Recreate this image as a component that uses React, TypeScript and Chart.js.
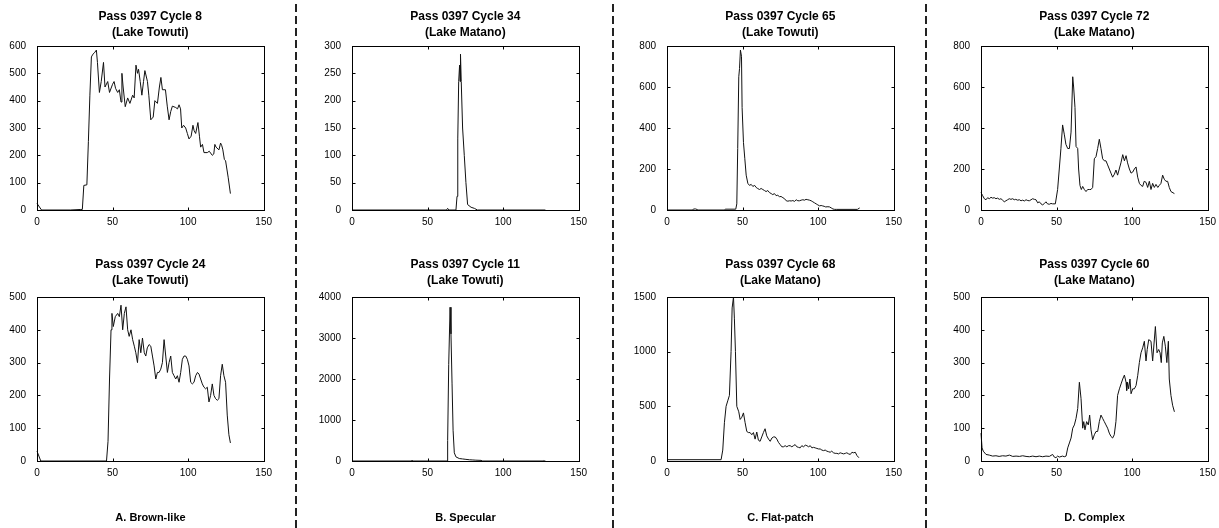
import React, { useEffect, useRef } from "react";
import { Chart, registerables } from "chart.js";

Chart.register(...registerables);

type Pt = [number, number];

// Waveform bin (x) and power (y) readings for each panel
const cycle8: Pt[] = [[0,24],[3,0],[22,0],[29,2],[30,2],[31,90],[33,92],[34,250],[35,420],[36,560],[37,570],[38,575],[39.3,585],[40,540],[41.3,430],[42.5,470],[44,540],[45,450],[46.8,470],[48,430],[50,460],[51,470],[52,445],[53.4,430],[54.5,440],[55.6,395],[56.2,500],[57,450],[58.4,378],[60,410],[61.5,390],[63.3,420],[64.3,410],[65.5,530],[66.5,500],[67.2,515],[68.3,470],[69.4,420],[70.5,470],[71.4,510],[73.1,470],[74,420],[75.3,330],[76.9,340],[78,400],[79.7,390],[81,450],[82,485],[83,440],[85,440],[86.2,380],[87.4,330],[88.5,360],[89.6,380],[91.8,375],[93,370],[94,385],[95,370],[95.8,300],[97,310],[98.4,300],[99.5,280],[100.6,260],[102,270],[103.2,310],[104,290],[105,280],[106.5,320],[107.5,270],[108.3,230],[109.5,240],[110.5,210],[112.7,210],[114,215],[116,200],[117,205],[117.7,240],[118.5,230],[120.4,220],[121.5,245],[122.3,235],[123,220],[124,185],[124.8,180],[126.5,120],[128,60]];

const cycle24: Pt[] = [[0,30],[2.5,0],[46,0],[47,60],[48,250],[49,400],[49.6,450],[50.5,410],[51.8,440],[53.4,450],[54.5,440],[55.6,475],[56.7,400],[57.8,450],[58.9,470],[60,400],[61,380],[62.2,400],[63.3,370],[64.4,350],[65.4,330],[66.5,300],[67.6,370],[68.7,330],[69.8,375],[71,330],[72,320],[73,345],[74.2,355],[75.3,350],[76.4,320],[77.5,290],[78.6,250],[79.7,270],[80.8,270],[81.9,280],[83,300],[84.1,370],[85.2,320],[86.3,270],[87.4,300],[88.5,320],[89.6,270],[90.7,260],[91.8,250],[92.9,260],[94,240],[95.1,270],[96.2,310],[97.3,320],[98.4,320],[99.5,310],[100.6,290],[101.7,240],[102.8,235],[103.9,240],[105,260],[106.2,270],[107.2,265],[108.3,250],[109.4,235],[110.5,225],[111.6,220],[112.7,225],[113.8,180],[114.9,200],[116,235],[117.1,200],[118.2,190],[119.3,185],[120.4,190],[121.5,260],[122.6,295],[123.7,260],[124.8,240],[125.9,140],[127,80],[128,55]];

const cycle34: Pt[] = [[0,0],[62.5,0],[63.3,3],[64,0],[68.8,0],[69.5,25],[70,130],[70.6,235],[71.2,265],[71.5,235],[71.8,285],[72.3,235],[73.2,150],[74.3,100],[75.4,50],[76.5,10],[78.8,5],[81,3],[83,0],[128,0]];

const cycle11: Pt[] = [[0,0],[39.2,0],[39.7,20],[40.2,0],[62.9,0],[63.3,500],[64,2350],[64.9,3750],[65.5,3100],[66.2,1900],[66.9,750],[67.7,200],[68.8,100],[71,60],[73.2,50],[75.4,40],[77.7,30],[80,25],[82,20],[85.4,15],[86.5,0],[126.5,0],[127,10],[127.5,0],[128,0]];

const cycle65: Pt[] = [[0,0],[17,0],[17.5,5],[19,5],[20,2],[21,0],[38,0],[38.5,4],[45.5,4],[46.2,30],[46.8,300],[47.5,650],[48,690],[48.6,780],[49.3,750],[49.7,500],[50.6,330],[51.5,250],[52.4,170],[53.5,130],[54.6,120],[55.7,125],[56.8,115],[58,120],[59,110],[60,105],[61.2,100],[62.3,105],[63.4,100],[64.5,95],[65.6,90],[66.7,95],[67.8,85],[69,80],[70,75],[71.1,80],[72.2,70],[73.3,72],[74.4,65],[75.5,66],[76.7,60],[77.8,55],[78.9,45],[80,43],[81,45],[82.2,44],[83.3,46],[84.4,42],[85.5,50],[86.6,45],[87.7,45],[88.8,48],[89.9,50],[91,48],[92,52],[93.2,50],[94.3,48],[95.4,45],[96.5,40],[97.6,35],[98.7,30],[99.8,25],[101,20],[102,22],[103,20],[104,18],[105,15],[106.5,16],[107.6,15],[108.7,10],[109.8,5],[111,3],[112,3],[126,3],[127.5,10]];

const cycle68: Pt[] = [[0,12],[35.8,12],[36.9,100],[38,350],[39.1,500],[40.2,550],[41.3,600],[42.4,1000],[43.1,1400],[44,1500],[44.6,1300],[45.3,1000],[46.2,500],[47.5,450],[48.4,380],[49.5,400],[50.6,440],[51.7,350],[52.8,270],[53.9,260],[55,260],[56.1,240],[57.2,260],[58.3,200],[59.4,265],[60.5,190],[61.6,180],[62.7,220],[63.8,260],[64.9,295],[66,230],[67.2,200],[68.3,180],[69.4,210],[70.5,220],[71.6,220],[72.7,200],[73.8,170],[74.9,150],[76,130],[77.1,130],[78.2,140],[79.3,130],[80.4,140],[81.5,140],[82.6,130],[83.7,140],[84.8,150],[85.9,130],[87,125],[88.1,120],[89.2,140],[90.4,130],[91.5,145],[92.6,140],[93.7,130],[94.8,140],[95.9,120],[97,125],[98.1,120],[99.2,115],[100.3,110],[101.4,110],[102.5,100],[103.6,95],[104.7,100],[105.8,90],[106.9,85],[108,80],[109,90],[110.2,75],[111.3,70],[112.4,70],[113.5,65],[114.6,75],[115.7,70],[116.9,65],[118,70],[119,75],[120.2,65],[121.3,60],[122.4,80],[123.5,75],[124.6,80],[125.7,50],[127,30]];

const cycle72: Pt[] = [[0,85],[1.1,70],[2.2,55],[3.3,50],[4.4,60],[5.5,55],[6.6,62],[7.7,58],[8.8,60],[9.9,55],[11,58],[12.1,52],[13.2,55],[14.3,48],[15.4,40],[16.5,45],[17.6,50],[18.7,55],[19.8,52],[21,55],[22,50],[23,52],[24.2,48],[25.4,50],[26.5,45],[27.6,48],[28.7,44],[29.8,50],[31,46],[32,45],[33.1,50],[34.2,55],[35.3,52],[36.4,50],[37.5,35],[38.6,40],[39.7,30],[40.8,25],[42,32],[43,40],[44,30],[45.2,28],[46.3,32],[47.4,30],[49.2,30],[50.7,100],[51.8,200],[52.9,300],[54,415],[55.1,370],[56.2,320],[57.4,300],[58.5,300],[59.6,380],[60.7,650],[61.3,600],[62.2,500],[62.9,310],[64,300],[64.6,200],[65.5,120],[66.4,100],[67.3,115],[68.4,100],[69.5,90],[70.6,100],[71.7,100],[72.8,100],[73.9,110],[75,250],[76.1,260],[77.2,300],[78.3,345],[79.4,300],[80.5,250],[81.6,240],[82.7,240],[83.8,220],[84.9,200],[86,180],[87.1,160],[88.3,175],[89.3,195],[90.4,170],[91.5,200],[92.6,230],[93.8,270],[94.9,240],[96,265],[97,230],[98.2,200],[99.3,180],[100.4,185],[101.5,200],[102.6,210],[103.7,160],[104.8,130],[105.9,120],[107,115],[108,140],[109.2,135],[110.3,110],[111.4,140],[112.5,100],[113.6,130],[114.7,110],[115.8,125],[117,110],[118,120],[119.1,130],[120.2,170],[121.3,150],[122.4,140],[123.5,140],[124.6,110],[125.7,90],[128,80]];

const cycle60: Pt[] = [[0,85],[0.7,40],[1.5,30],[3.3,20],[5.5,18],[7.7,15],[9.9,16],[12,14],[14.3,16],[16.5,15],[18.8,18],[21,14],[23.2,15],[25.4,14],[27.6,16],[29.8,14],[32,13],[34.2,15],[36.4,13],[38.6,15],[40.8,13],[43,15],[45.2,14],[47.4,20],[48.5,12],[49.6,10],[50.7,15],[51.8,12],[54,15],[55.1,13],[56.3,15],[57.4,40],[58.5,55],[59.6,70],[60.7,100],[61.8,110],[62.9,130],[64,160],[65.1,240],[66.2,190],[67.3,100],[68,120],[68.8,95],[69.9,120],[71,110],[71.9,140],[72.8,95],[73.9,65],[75,80],[76.1,90],[77.2,90],[78.3,120],[79.4,140],[80.5,130],[81.6,120],[82.7,110],[83.8,100],[84.9,85],[86,75],[87.1,70],[88.2,80],[89.3,120],[90.4,200],[91.6,220],[92.7,235],[93.8,250],[94.9,262],[96,240],[96.4,215],[97,240],[97.7,220],[98.6,250],[99.3,205],[100.4,220],[101.5,220],[102.6,230],[103.7,260],[104.8,300],[105.9,330],[107,345],[108.1,365],[109.2,305],[110,340],[111,370],[112.5,365],[113.6,305],[115.4,410],[116.5,330],[117.6,340],[118.5,330],[119.3,300],[120,360],[121,380],[122,350],[123,300],[124,365],[124.6,250],[125.7,200],[126.8,170],[128,150]];

const titlesTop = [
  ["Pass 0397 Cycle 8", "(Lake Towuti)"],
  ["Pass 0397 Cycle 34", "(Lake Matano)"],
  ["Pass 0397 Cycle 65", "(Lake Towuti)"],
  ["Pass 0397 Cycle 72", "(Lake Matano)"],
];
const titlesBottom = [
  ["Pass 0397 Cycle 24", "(Lake Towuti)"],
  ["Pass 0397 Cycle 11", "(Lake Towuti)"],
  ["Pass 0397 Cycle 68", "(Lake Matano)"],
  ["Pass 0397 Cycle 60", "(Lake Matano)"],
];
const seriesTop = [cycle8, cycle34, cycle65, cycle72];
const seriesBottom = [cycle24, cycle11, cycle68, cycle60];
const yMaxTop = [600, 300, 800, 800];
const yStepTop = [100, 50, 200, 200];
const yMaxBottom = [500, 4000, 1500, 500];
const yStepBottom = [100, 1000, 500, 100];
const xTicks = [0, 50, 100, 150];
const classLabels = ["A. Brown-like", "B. Specular", "C. Flat-patch", "D. Complex"];

const FONT = "'Liberation Sans', Arial, Helvetica, sans-serif";

const PLOT_LEFT = [37, 352, 667, 981];
const PLOT_TOP = [46, 297];
const TITLE_PAD = [
  { top: 9, bottom: 5 },
  { top: 6, bottom: 8 },
];
const PLOT_W = 227;
const PLOT_H = 164;
const AXIS_W = 40;
const TITLE_H = 46;
const XAXIS_H = 20;
const RIGHT_PAD = 14;
const CANVAS_W = AXIS_W + PLOT_W + RIGHT_PAD;
const CANVAS_H = TITLE_H + PLOT_H + XAXIS_H;

const boxPlugin = {
  id: "matlabBox",
  afterDatasetsDraw(chart: any) {
    const { ctx, chartArea: a, scales } = chart;
    ctx.save();
    ctx.strokeStyle = "#000";
    ctx.lineWidth = 1;
    const L = Math.round(a.left) + 0.5;
    const R = Math.round(a.right) + 0.5;
    const T = Math.round(a.top) + 0.5;
    const B = Math.round(a.bottom) + 0.5;
    ctx.strokeRect(L, T, R - L, B - T);
    const len = 3;
    ctx.beginPath();
    scales.x.ticks.forEach((t: any) => {
      const px = Math.round(scales.x.getPixelForValue(t.value)) + 0.5;
      ctx.moveTo(px, B);
      ctx.lineTo(px, B - len);
      ctx.moveTo(px, T);
      ctx.lineTo(px, T + len);
    });
    scales.y.ticks.forEach((t: any) => {
      const py = Math.round(scales.y.getPixelForValue(t.value)) + 0.5;
      ctx.moveTo(L, py);
      ctx.lineTo(L + len, py);
      ctx.moveTo(R, py);
      ctx.lineTo(R - len, py);
    });
    ctx.stroke();
    ctx.restore();
  },
};

function Panel(props: {
  title: string[];
  data: Pt[];
  yMax: number;
  yStep: number;
  left: number;
  top: number;
  titlePad: { top: number; bottom: number };
}) {
  const ref = useRef<HTMLCanvasElement>(null);
  useEffect(() => {
    const chart = new Chart(ref.current as HTMLCanvasElement, {
      type: "line",
      data: {
        datasets: [
          {
            data: props.data.map(([x, y]) => ({ x, y })),
            borderColor: "#111",
            borderWidth: 1,
            pointRadius: 0,
            tension: 0,
            fill: false,
            clip: false as any,
          },
        ],
      },
      options: {
        animation: false,
        responsive: false,
        maintainAspectRatio: false,
        events: [],
        layout: { padding: { left: 0, right: RIGHT_PAD, top: 0, bottom: 0 } },
        plugins: {
          legend: { display: false },
          tooltip: { enabled: false },
          title: {
            display: true,
            text: props.title,
            fullSize: false,
            color: "#000",
            font: { family: FONT, size: 12, weight: "bold", lineHeight: "16px" as any },
            padding: props.titlePad,
          },
        },
        scales: {
          x: {
            type: "linear",
            min: 0,
            max: 150,
            afterBuildTicks: (s: any) => {
              s.ticks = xTicks.map((v) => ({ value: v }));
            },
            ticks: {
              color: "#000",
              font: { family: FONT, size: 10 },
              padding: 6,
              maxRotation: 0,
              autoSkip: false,
              callback: (v: any) => String(v),
            },
            grid: { display: false, drawTicks: false },
            border: { display: false },
            afterFit: (s: any) => {
              s.height = XAXIS_H;
            },
          },
          y: {
            type: "linear",
            min: 0,
            max: props.yMax,
            ticks: {
              stepSize: props.yStep,
              color: "#000",
              font: { family: FONT, size: 10 },
              padding: 11,
              callback: (v: any) => String(v),
            },
            grid: { display: false, drawTicks: false },
            border: { display: false },
            afterFit: (s: any) => {
              s.width = AXIS_W;
            },
          },
        },
      } as any,
      plugins: [boxPlugin],
    });
    return () => chart.destroy();
  }, []);
  return (
    <canvas
      ref={ref}
      width={CANVAS_W}
      height={CANVAS_H}
      style={{ position: "absolute", left: props.left, top: props.top, width: CANVAS_W, height: CANVAS_H }}
    />
  );
}

const SEPARATOR_X = [296, 613, 926];

export default function App() {
  return (
    <div style={{ position: "absolute", left: 0, top: 0, width: 1219, height: 528, background: "#fff", overflow: "hidden" }}>
      {seriesTop.map((d, i) => (
        <Panel
          key={"t" + i}
          title={titlesTop[i]}
          data={d}
          yMax={yMaxTop[i]}
          yStep={yStepTop[i]}
          left={PLOT_LEFT[i] - AXIS_W}
          top={PLOT_TOP[0] - TITLE_H}
          titlePad={TITLE_PAD[0]}
        />
      ))}
      {seriesBottom.map((d, i) => (
        <Panel
          key={"b" + i}
          title={titlesBottom[i]}
          data={d}
          yMax={yMaxBottom[i]}
          yStep={yStepBottom[i]}
          left={PLOT_LEFT[i] - AXIS_W}
          top={PLOT_TOP[1] - TITLE_H}
          titlePad={TITLE_PAD[1]}
        />
      ))}
      <svg width={1219} height={528} style={{ position: "absolute", left: 0, top: 0, pointerEvents: "none" }}>
        {SEPARATOR_X.map((x) => (
          <line key={x} x1={x} y1={4} x2={x} y2={528} stroke="#222" strokeWidth={2} strokeDasharray="8 4" />
        ))}
      </svg>
      {classLabels.map((t, i) => (
        <div
          key={t}
          style={{
            position: "absolute",
            left: PLOT_LEFT[i],
            top: 509,
            width: PLOT_W,
            textAlign: "center",
            font: `bold 11px ${FONT}`,
            lineHeight: "16px",
            color: "#000",
          }}
        >
          {t}
        </div>
      ))}
    </div>
  );
}
